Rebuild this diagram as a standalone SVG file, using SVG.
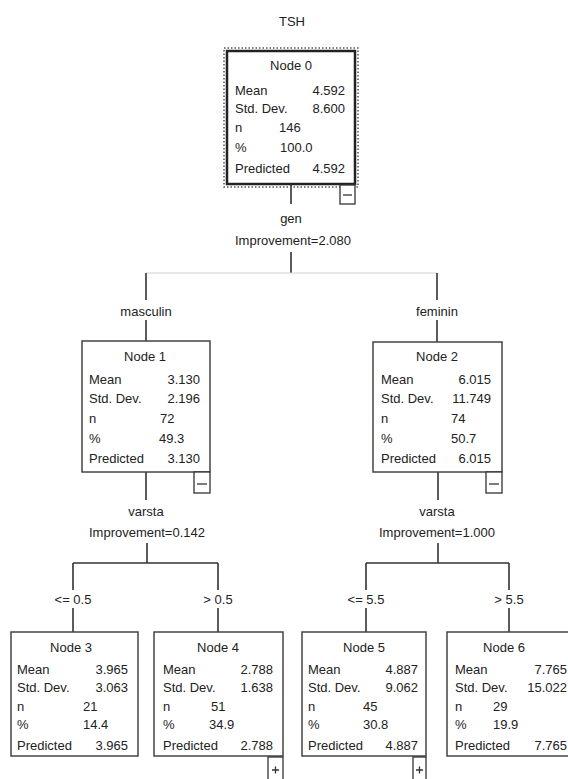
<svg xmlns="http://www.w3.org/2000/svg" width="568" height="779" viewBox="0 0 568 779">
<style>
text{font-family:"Liberation Sans",Arial,sans-serif;font-size:13px;fill:#222}
.t{text-anchor:middle}
.v{text-anchor:end}
.e{text-anchor:middle}
.box{fill:#fff;stroke:#444;stroke-width:1.5}
.sel{fill:#fff;stroke:#222;stroke-width:2.5}
.dot{fill:none;stroke:#555;stroke-width:1.5;stroke-dasharray:1.5 2}
.ln{stroke:#333;stroke-width:1.6;fill:none}
.lt{stroke:#d4cbd4;stroke-width:1.2;fill:none}
.tg{fill:#fff;stroke:#333;stroke-width:1.3}
.sg{stroke:#333;stroke-width:1.3}
</style>
<rect width="568" height="779" fill="#fff"/>
<text class="t" x="292" y="26">TSH</text>
<g id="connectors">
<path class="ln" d="M291 184V204M291 252V273"/>
<path class="lt" d="M146 273H437"/>
<path class="ln" d="M146 273V300M146 320V341M437 273V300M437 320V342"/>
<path class="ln" d="M146 472V500M147 543V563M73 563H218M73 563V590M73 608V632M218 563V590M218 608V632"/>
<path class="ln" d="M438 472V500M438 543V563M366 563H509M366 563V590M366 608V632M509 563V590M509 608V632"/>
</g>
<g id="edge-labels">
<text class="e" x="291" y="223">gen</text>
<text class="e" x="293" y="245">Improvement=2.080</text>
<text class="e" x="146" y="316">masculin</text>
<text class="e" x="437" y="316">feminin</text>
<text class="e" x="146" y="516">varsta</text>
<text class="e" x="147" y="537">Improvement=0.142</text>
<text class="e" x="437" y="516">varsta</text>
<text class="e" x="437" y="537">Improvement=1.000</text>
<text class="e" x="73" y="604">&lt;= 0.5</text>
<text class="e" x="218" y="604">&gt; 0.5</text>
<text class="e" x="366" y="604">&lt;= 5.5</text>
<text class="e" x="509" y="604">&gt; 5.5</text>
</g>
<g id="node0">
<rect class="dot" x="224" y="48" width="134" height="139"/>
<rect class="sel" x="227" y="51" width="128" height="133"/>
<text class="t" x="291" y="70">Node 0</text>
<text x="235" y="95">Mean</text><text class="v" x="345" y="95">4.592</text>
<text x="235" y="113">Std. Dev.</text><text class="v" x="345" y="113">8.600</text>
<text x="235" y="132">n</text><text x="279" y="132">146</text>
<text x="235" y="152">%</text><text x="280" y="152">100.0</text>
<text x="235" y="173">Predicted</text><text class="v" x="345" y="173">4.592</text>
<rect class="tg" x="340" y="185" width="15" height="19"/>
<path class="sg" d="M343 195H352"/>
</g>
<g id="node1">
<rect class="box" x="82" y="341" width="128" height="131"/>
<text class="t" x="145" y="361">Node 1</text>
<text x="89" y="384">Mean</text><text class="v" x="200" y="384">3.130</text>
<text x="89" y="403">Std. Dev.</text><text class="v" x="200" y="403">2.196</text>
<text x="89" y="423">n</text><text x="160" y="423">72</text>
<text x="89" y="443">%</text><text x="159" y="443">49.3</text>
<text x="89" y="463">Predicted</text><text class="v" x="200" y="463">3.130</text>
<rect class="tg" x="194" y="472" width="16" height="21"/>
<path class="sg" d="M197 484H207"/>
</g>
<g id="node2">
<rect class="box" x="373" y="342" width="129" height="130"/>
<text class="t" x="437" y="361">Node 2</text>
<text x="381" y="384">Mean</text><text class="v" x="491" y="384">6.015</text>
<text x="381" y="403">Std. Dev.</text><text class="v" x="491" y="403">11.749</text>
<text x="381" y="423">n</text><text x="451" y="423">74</text>
<text x="381" y="443">%</text><text x="451" y="443">50.7</text>
<text x="381" y="463">Predicted</text><text class="v" x="491" y="463">6.015</text>
<rect class="tg" x="486" y="472" width="16" height="21"/>
<path class="sg" d="M489 484H499"/>
</g>
<g id="node3">
<rect class="box" x="11" y="632" width="127" height="124"/>
<text class="t" x="71" y="652">Node 3</text>
<text x="17" y="674">Mean</text><text class="v" x="128" y="674">3.965</text>
<text x="17" y="692">Std. Dev.</text><text class="v" x="128" y="692">3.063</text>
<text x="17" y="711">n</text><text x="83" y="711">21</text>
<text x="17" y="729">%</text><text x="83" y="729">14.4</text>
<text x="17" y="750">Predicted</text><text class="v" x="128" y="750">3.965</text>
</g>
<g id="node4">
<rect class="box" x="154" y="632" width="129" height="124"/>
<text class="t" x="218" y="652">Node 4</text>
<text x="163" y="674">Mean</text><text class="v" x="273" y="674">2.788</text>
<text x="163" y="692">Std. Dev.</text><text class="v" x="273" y="692">1.638</text>
<text x="163" y="711">n</text><text x="211" y="711">51</text>
<text x="163" y="729">%</text><text x="209" y="729">34.9</text>
<text x="163" y="750">Predicted</text><text class="v" x="273" y="750">2.788</text>
<rect class="tg" x="268" y="757" width="15" height="24"/>
<path class="sg" d="M272 770H279M275.5 766.5V773.5"/>
</g>
<g id="node5">
<rect class="box" x="302" y="632" width="124" height="124"/>
<text class="t" x="364" y="652">Node 5</text>
<text x="308" y="674">Mean</text><text class="v" x="418" y="674">4.887</text>
<text x="308" y="692">Std. Dev.</text><text class="v" x="418" y="692">9.062</text>
<text x="308" y="711">n</text><text x="363" y="711">45</text>
<text x="308" y="729">%</text><text x="363" y="729">30.8</text>
<text x="308" y="750">Predicted</text><text class="v" x="418" y="750">4.887</text>
<rect class="tg" x="413" y="757" width="13" height="24"/>
<path class="sg" d="M416 770H423M419.5 766.5V773.5"/>
</g>
<g id="node6">
<rect class="box" x="447" y="632" width="128" height="124"/>
<text class="t" x="504" y="652">Node 6</text>
<text x="455" y="674">Mean</text><text class="v" x="567" y="674">7.765</text>
<text x="455" y="692">Std. Dev.</text><text class="v" x="567" y="692">15.022</text>
<text x="455" y="711">n</text><text x="493" y="711">29</text>
<text x="455" y="729">%</text><text x="493" y="729">19.9</text>
<text x="455" y="750">Predicted</text><text class="v" x="567" y="750">7.765</text>
</g>
</svg>
